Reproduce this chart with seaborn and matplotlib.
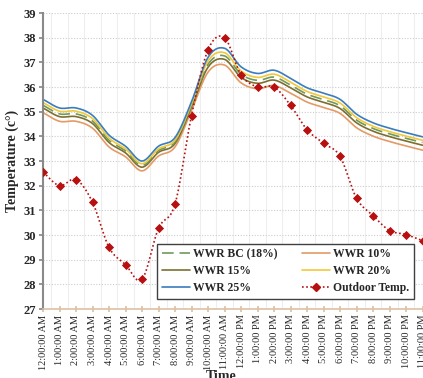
import numpy as np
import pandas as pd
import matplotlib
matplotlib.use("Agg")
import matplotlib.pyplot as plt
from matplotlib.lines import Line2D
import seaborn as sns

# Hourly time labels
hours = ["12:00:00 AM", "1:00:00 AM", "2:00:00 AM", "3:00:00 AM", "4:00:00 AM",
         "5:00:00 AM", "6:00:00 AM", "7:00:00 AM", "8:00:00 AM", "9:00:00 AM",
         "10:00:00 AM", "11:00:00 AM", "12:00:00 PM", "1:00:00 PM", "2:00:00 PM",
         "3:00:00 PM", "4:00:00 PM", "5:00:00 PM", "6:00:00 PM", "7:00:00 PM",
         "8:00:00 PM", "9:00:00 PM", "10:00:00 PM", "11:00:00 PM"]

# Indoor temperatures (°C) per window-to-wall ratio
wwr_bc = [35.26, 34.91, 34.91, 34.62, 33.84, 33.41, 32.82, 33.42, 33.78, 35.25,
          36.92, 37.26, 36.52, 36.27, 36.40, 36.08, 35.71, 35.49, 35.24, 34.66,
          34.32, 34.10, 33.92, 33.75]
wwr_10 = [34.96, 34.61, 34.61, 34.33, 33.57, 33.17, 32.60, 33.20, 33.57, 35.05,
          36.60, 36.89, 36.17, 35.93, 36.06, 35.75, 35.39, 35.17, 34.93, 34.35,
          34.01, 33.79, 33.61, 33.44]
wwr_15 = [35.15, 34.80, 34.80, 34.52, 33.75, 33.33, 32.75, 33.35, 33.71, 35.18,
          36.80, 37.12, 36.39, 36.15, 36.28, 35.97, 35.60, 35.38, 35.13, 34.55,
          34.21, 33.99, 33.81, 33.64]
wwr_20 = [35.37, 35.02, 35.02, 34.72, 33.93, 33.49, 32.89, 33.49, 33.85, 35.32,
          37.05, 37.39, 36.65, 36.39, 36.52, 36.20, 35.82, 35.60, 35.35, 34.76,
          34.41, 34.19, 34.01, 33.84]
wwr_25 = [35.50, 35.15, 35.15, 34.85, 34.05, 33.60, 33.00, 33.60, 33.95, 35.40,
          37.20, 37.57, 36.82, 36.55, 36.68, 36.35, 35.97, 35.75, 35.50, 34.90,
          34.55, 34.33, 34.15, 33.98]
outdoor = [32.55, 32.00, 32.25, 31.33, 29.50, 28.80, 28.20, 30.27, 31.25, 34.84,
           37.50, 38.00, 36.50, 36.00, 36.00, 35.26, 34.27, 33.72, 33.19, 31.49,
           30.79, 30.18, 30.02, 29.77]

series_names = ["WWR BC (18%)", "WWR 10%", "WWR 15%", "WWR 20%", "WWR 25%"]
series_vals = [wwr_bc, wwr_10, wwr_15, wwr_20, wwr_25]
colors = {"WWR BC (18%)": "#6f9a5c", "WWR 10%": "#e39a66", "WWR 15%": "#7e6e2e",
          "WWR 20%": "#f2c93a", "WWR 25%": "#3a7dbd", "Outdoor Temp.": "#b80f0f"}


def smooth(x, y, n=20):
    """Catmull-Rom curve through the given points (smoothed line rendering)."""
    x = np.asarray(x, float)
    y = np.asarray(y, float)
    px = np.concatenate([[2 * x[0] - x[1]], x, [2 * x[-1] - x[-2]]])
    py = np.concatenate([[2 * y[0] - y[1]], y, [2 * y[-1] - y[-2]]])
    xs, ys = [], []
    t = np.linspace(0, 1, n, endpoint=False)
    for i in range(1, len(px) - 2):
        for arr, out in ((px, xs), (py, ys)):
            p0, p1, p2, p3 = arr[i - 1], arr[i], arr[i + 1], arr[i + 2]
            out.extend(0.5 * ((2 * p1) + (-p0 + p2) * t
                              + (2 * p0 - 5 * p1 + 4 * p2 - p3) * t ** 2
                              + (-p0 + 3 * p1 - 3 * p2 + p3) * t ** 3))
    xs.append(x[-1])
    ys.append(y[-1])
    return np.array(xs), np.array(ys)


sns.set_theme(style="white")
plt.rcParams["font.family"] = ["Liberation Serif", "DejaVu Serif"]

fig = plt.figure(figsize=(4.23, 3.78), dpi=100)
ax = fig.add_axes([43 / 423, 1 - 309 / 378, 379.5 / 423, 296 / 378])

xpos = np.arange(len(hours))
draw_order = ["WWR 10%", "WWR 15%", "WWR BC (18%)", "WWR 20%", "WWR 25%"]
for name in draw_order:
    vals = series_vals[series_names.index(name)]
    sx, sy = smooth(xpos, vals)
    df = pd.DataFrame({"x": sx, "y": sy})
    sns.lineplot(data=df, x="x", y="y", ax=ax, color=colors[name], lw=1.2,
                 sort=False, estimator=None)
    if name == "WWR BC (18%)":
        ax.lines[-1].set_dashes([7, 3.5])

sx, sy = smooth(xpos, outdoor)
sns.lineplot(data=pd.DataFrame({"x": sx, "y": sy}), x="x", y="y", ax=ax,
             color=colors["Outdoor Temp."], lw=1.2, sort=False, estimator=None)
ax.lines[-1].set_linestyle((0, (1, 1.5)))
sns.scatterplot(data=pd.DataFrame({"x": xpos, "y": outdoor}), x="x", y="y", ax=ax,
                color=colors["Outdoor Temp."], marker="D", s=22, linewidth=0,
                zorder=5)

ax.set_xlim(0, 23)
ax.set_ylim(27, 39)
ax.set_yticks(range(27, 40))
ax.set_yticklabels([str(v) for v in range(27, 40)], fontsize=9, fontweight="bold")
ax.set_xticks(xpos)
ax.set_xticklabels(hours, rotation=90, fontsize=7.5)
ax.set_xticks(xpos[:-1] + 0.5, minor=True)

ax.grid(False)
ax.grid(axis="y", which="major", color="#cccccc", linestyle=(0, (1, 1.5)), lw=0.8)
ax.grid(axis="x", which="minor", color="#eeeeee", linestyle="-", lw=0.8)
ax.set_axisbelow(True)

for s in ("top", "right"):
    ax.spines[s].set_visible(False)
ax.spines["left"].set_color("#8a8a8a")
ax.spines["left"].set_linewidth(1.5)
ax.spines["bottom"].set_color("#dcc2a4")
ax.spines["bottom"].set_linewidth(1.2)
ax.tick_params(axis="x", which="major", direction="inout", length=4, color="#dcc2a4",
               pad=2, bottom=True)
ax.tick_params(axis="x", which="minor", length=0)
ax.tick_params(axis="y", direction="out", length=3, color="#8a8a8a", pad=2, left=True)

ax.set_ylabel("Temperature (c°)", fontsize=10, fontweight="bold", labelpad=3)
ax.set_xlabel("Time", fontsize=10, fontweight="bold", labelpad=2)
ax.xaxis.set_label_coords(0.47, -0.205)

handles = [
    Line2D([], [], color=colors["WWR BC (18%)"], lw=1.2, dashes=[7, 3.5]),
    Line2D([], [], color=colors["WWR 15%"], lw=1.2),
    Line2D([], [], color=colors["WWR 25%"], lw=1.2),
    Line2D([], [], color=colors["WWR 10%"], lw=1.2),
    Line2D([], [], color=colors["WWR 20%"], lw=1.2),
    Line2D([], [], color=colors["Outdoor Temp."], lw=1.2, linestyle=(0, (1, 1.5)),
           marker="D", markersize=4),
]
labels = ["WWR BC (18%)", "WWR 15%", "WWR 25%", "WWR 10%", "WWR 20%", "Outdoor Temp."]
leg = ax.legend(handles, labels, ncol=2, loc="lower left",
                bbox_to_anchor=(0.300, 0.034, 0.678, 0.179), mode="expand",
                prop={"weight": "bold", "size": 8.4}, frameon=True, fancybox=False,
                edgecolor="#404040", framealpha=1, borderpad=0.4,
                handlelength=2.4, handletextpad=0.3, labelspacing=0.42,
                columnspacing=1.0, borderaxespad=0)
leg.get_frame().set_linewidth(1.0)

fig.savefig("out.png", dpi=100)
